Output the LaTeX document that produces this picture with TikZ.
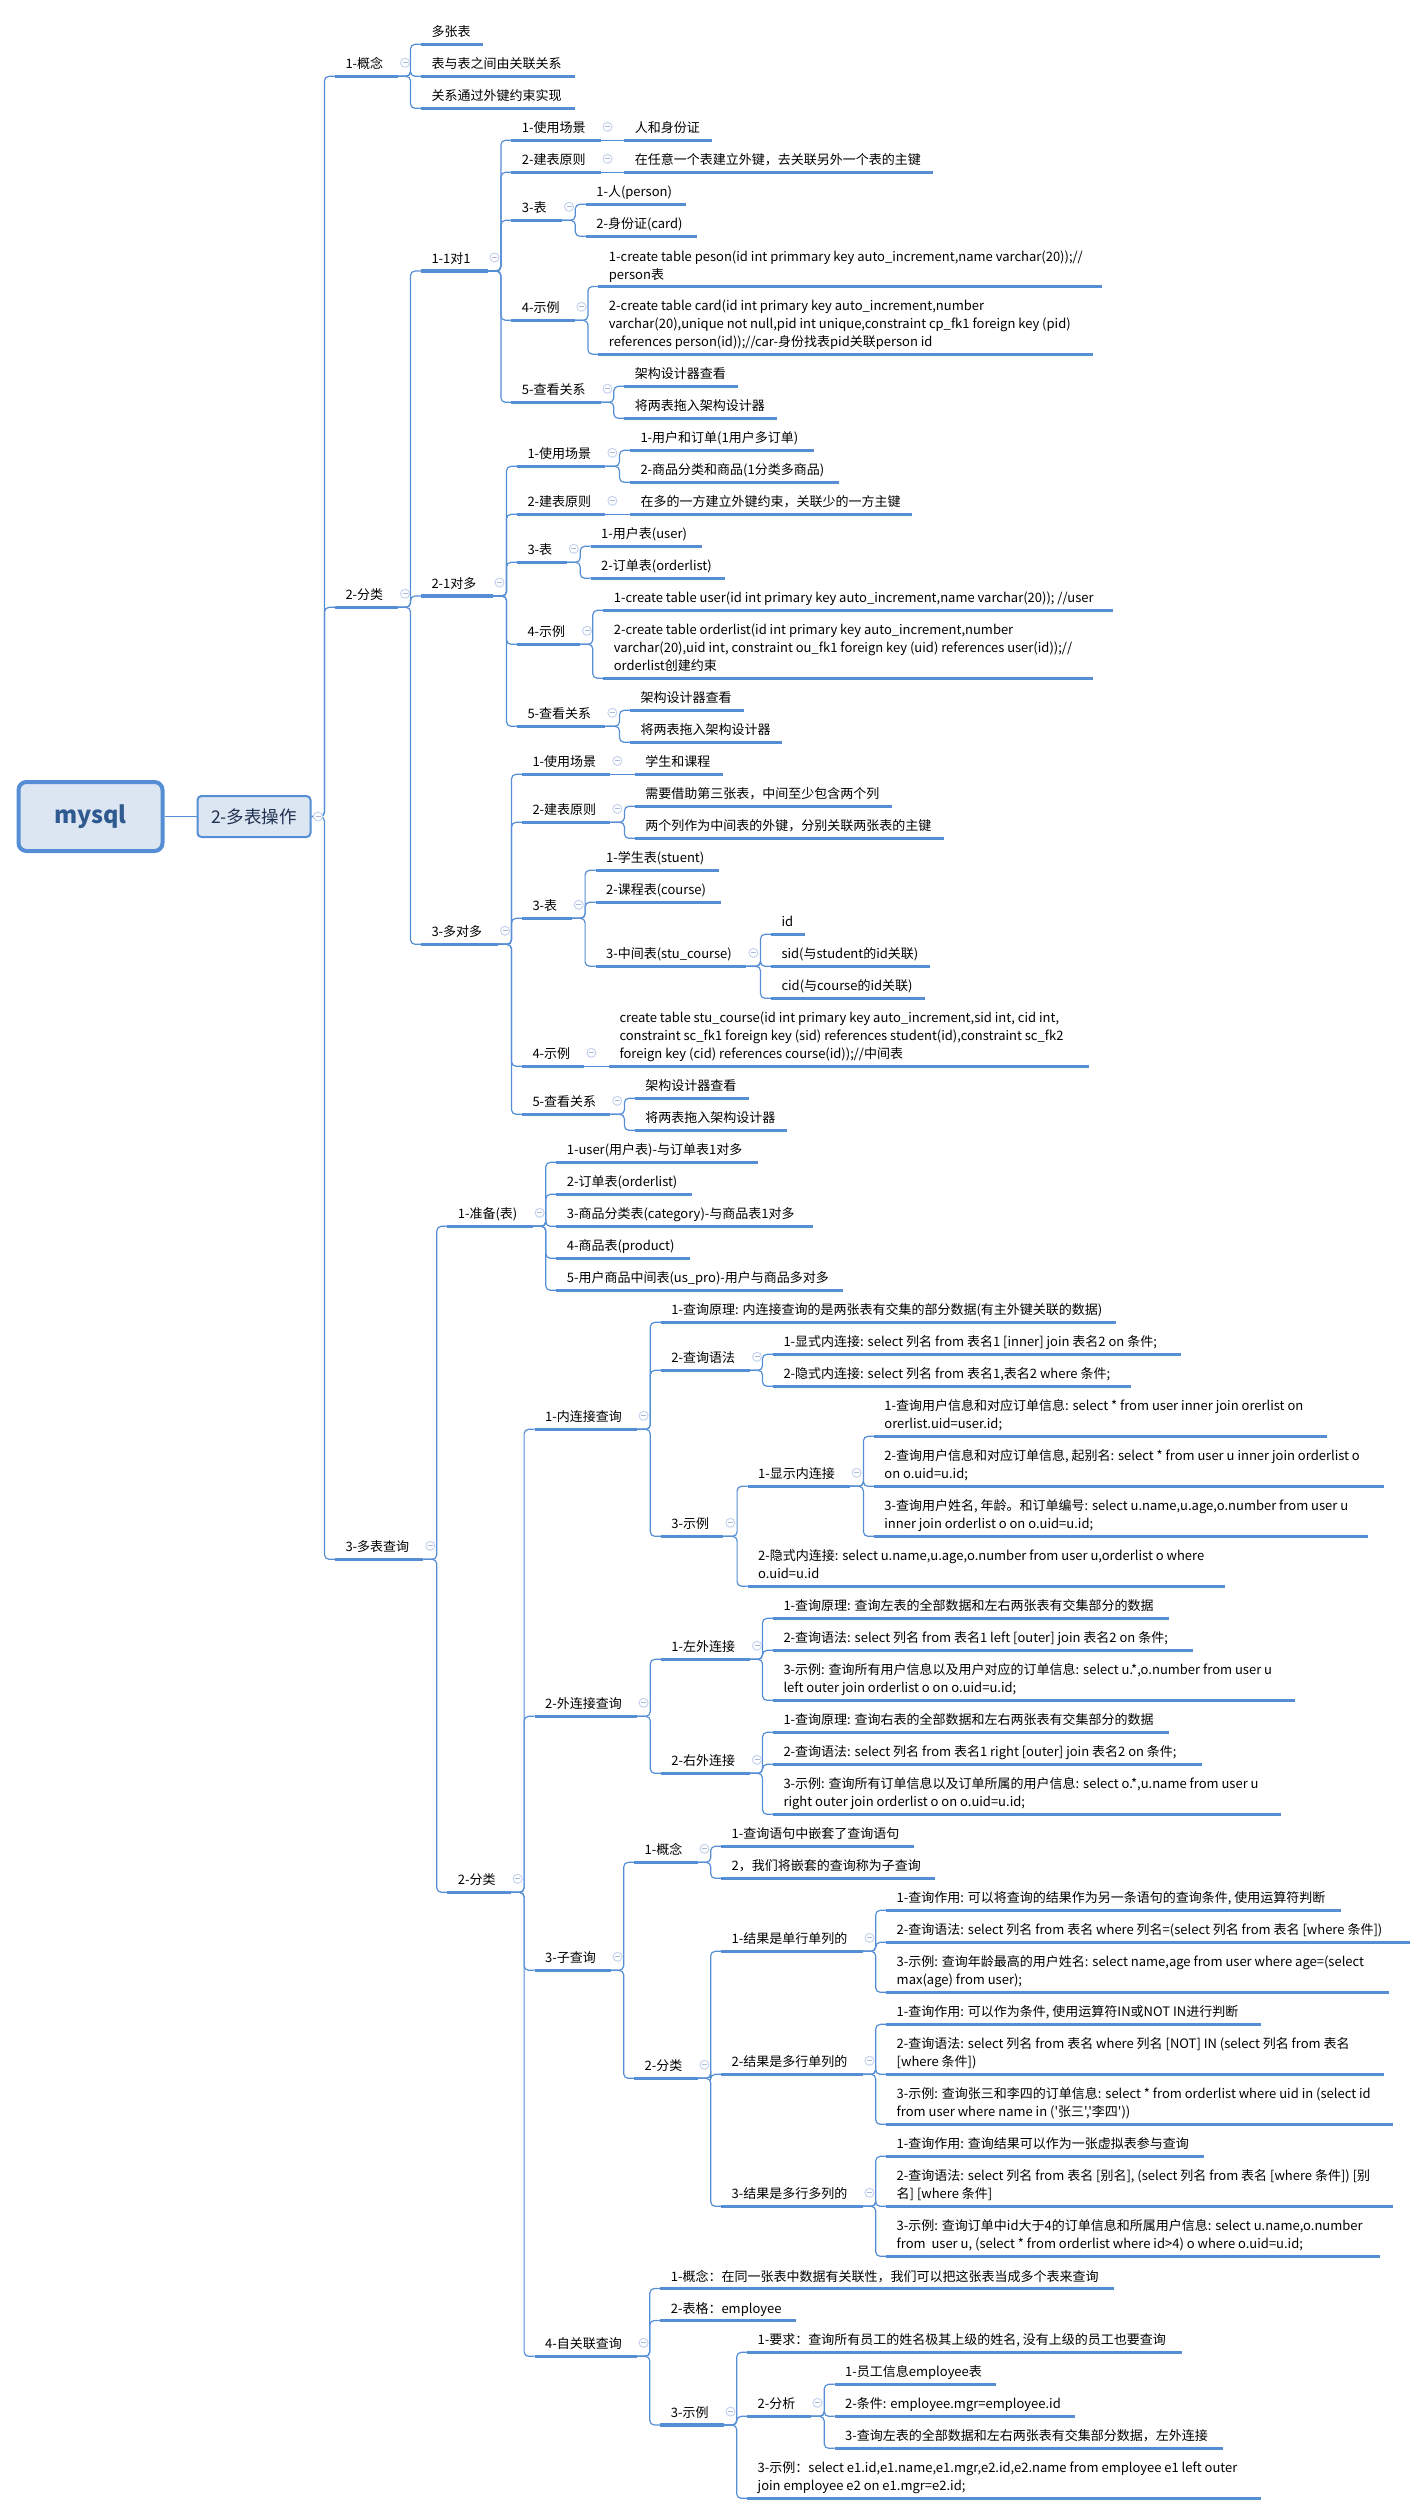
\documentclass[tikz,border=0pt]{standalone}
\usepackage{fontspec}
\newfontfamily\cjkfont{Noto Sans CJK SC}
\definecolor{mline}{HTML}{558ED5}
\definecolor{mfill}{HTML}{DCE6F2}
\definecolor{micon}{HTML}{C6D3EF}
\definecolor{mminus}{HTML}{A9B8D8}
\definecolor{mroot}{HTML}{2F5A90}
\definecolor{msub}{HTML}{1F3050}
\definecolor{mtext}{HTML}{000000}
\tikzset{
  topic/.style={anchor=south west,inner xsep=0pt,inner ysep=2pt,outer sep=0pt,text=mtext,
    font=\cjkfont\fontsize{13}{18}\selectfont},
  uline/.style={draw=mline,line width=3.2pt},
  conn/.style={draw=mline,line width=1.2pt,rounded corners=4.5pt},
  iconc/.style={circle,draw=micon,fill=white,line width=1pt,minimum size=9pt,inner sep=0pt},
  iconm/.style={draw=mminus,line width=0.9pt},
  rootbox/.style={draw=mline,fill=mfill,line width=4pt,rounded corners=8pt,minimum width=144pt,minimum height=69pt,
    inner sep=0pt,text=mroot,font=\cjkfont\bfseries\fontsize{23.5}{28}\selectfont},
  subbox/.style={draw=mline,fill=mfill,line width=2pt,rounded corners=4pt,minimum width=113pt,minimum height=41pt,
    inner sep=0pt,text=msub,font=\cjkfont\fontsize{17.5}{22}\selectfont}
}
\newcommand\topicx[5]{%
  \pgfmathsetlengthmacro\tw{(#3)-(#2)}%
  \node[topic] (#1) at (#2,#4) {\hbox to \tw{\hskip 10.5pt\begin{tabular}[b]{@{}l@{}}#5\end{tabular}\hss}};
  \draw[uline] (#1.south west) -- (#1.south east);
}
\newcommand\linkx[2]{\draw[conn] (#1.south east) -| ([xshift=-10.5pt]#2.south west) -- (#2.south west);}
\newcommand\linkst[2]{\draw[conn] (#1.south east) -- (#2.south west);}
\newcommand\iconx[1]{%
  \node[iconc] (#1i) at ([xshift=7pt,yshift=13.5pt]#1.south east) {};
  \draw[iconm] ([xshift=-2.5pt]#1i.center) -- ([xshift=2.5pt]#1i.center);
}
\begin{document}
\begin{tikzpicture}[x=1pt,y=-1pt]
\useasboundingbox (0,0) rectangle (1427,2515);
\node[rootbox] (root) at (90.5,816.5) {mysql};
\node[subbox] (sub) at (254,816.5) {2-多表操作};
\draw[conn] (root.east) -- (sub.west);
% level A
\topicx{aa}{335}{398}{76.3}{1-概念}
\topicx{ab}{335}{398}{607.3}{2-分类}
\topicx{ac}{335}{423.3}{1559.3}{3-多表查询}
% 1-概念
\topicx{aaa}{421}{483.3}{44.3}{多张表}
\topicx{aab}{421}{575}{76.3}{表与表之间由关联关系}
\topicx{aac}{421}{575}{108.3}{关系通过外键约束实现}
% 2-分类
\topicx{ba}{421}{487.5}{271}{1-1对1}
\topicx{bb}{421}{492.5}{596}{2-1对多}
\topicx{bc}{421}{498}{944.3}{3-多对多}
% 1-1对1
\topicx{baa}{511.4}{600.5}{140.3}{1-使用场景}
\topicx{baax}{624.3}{712}{140.3}{人和身份证}
\topicx{bab}{511.4}{600.5}{172.3}{2-建表原则}
\topicx{babx}{624.3}{933}{172.3}{在任意一个表建立外键，去关联另外一个表的主键}
\topicx{bac}{511.4}{562}{220.3}{3-表}
\topicx{baca}{585.8}{686}{204.3}{1-人(person)}
\topicx{bacb}{585.8}{697.3}{236.3}{2-身份证(card)}
\topicx{bad}{511.4}{574.5}{320.3}{4-示例}
\topicx{bada}{598.4}{1101.7}{286.5}{1-create table peson(id int primmary key auto\_increment,name varchar(20));//\\person表}
\topicx{badb}{598.4}{1093}{354.3}{2-create table card(id int primary key auto\_increment,number\\varchar(20),unique not null,pid int unique,constraint cp\_fk1 foreign key (pid)\\references person(id));//car-身份找表pid关联person id}
\topicx{bae}{511.4}{600.5}{402.3}{5-查看关系}
\topicx{baea}{624.3}{738}{386.3}{架构设计器查看}
\topicx{baeb}{624.3}{777.3}{418.3}{将两表拖入架构设计器}
% 2-1对多
\topicx{bba}{517}{605.4}{466.3}{1-使用场景}
\topicx{bbaa}{630}{813.8}{450.3}{1-用户和订单(1用户多订单)}
\topicx{bbab}{630}{839}{482.3}{2-商品分类和商品(1分类多商品)}
\topicx{bbb}{517}{605.4}{514.3}{2-建表原则}
\topicx{bbbx}{630}{912}{514.3}{在多的一方建立外键约束，关联少的一方主键}
\topicx{bbc}{517}{566.8}{562.3}{3-表}
\topicx{bbca}{590.7}{701.5}{546.3}{1-用户表(user)}
\topicx{bbcb}{590.7}{725.4}{578.3}{2-订单表(orderlist)}
\topicx{bbd}{517}{580}{644.3}{4-示例}
\topicx{bbda}{603.3}{1113.3}{610.3}{1-create table user(id int primary key auto\_increment,name varchar(20)); //user}
\topicx{bbdb}{603.3}{1093}{678.3}{2-create table orderlist(id int primary key auto\_increment,number\\varchar(20),uid int, constraint ou\_fk1 foreign key (uid) references user(id));//\\orderlist创建约束}
\topicx{bbe}{517}{605.4}{726.3}{5-查看关系}
\topicx{bbea}{630}{743.6}{710.3}{架构设计器查看}
\topicx{bbeb}{630}{782}{742.3}{将两表拖入架构设计器}
% 3-多对多
\topicx{bca}{522}{610.3}{774.3}{1-使用场景}
\topicx{bcax}{634.9}{722.5}{774.3}{学生和课程}
\topicx{bcb}{522}{610.3}{822.3}{2-建表原则}
\topicx{bcba}{634.9}{891.6}{806.3}{需要借助第三张表，中间至少包含两个列}
\topicx{bcbb}{634.9}{943.5}{838.3}{两个列作为中间表的外键，分别关联两张表的主键}
\topicx{bcc}{522}{571.7}{918.3}{3-表}
\topicx{bcca}{595.6}{719}{870.3}{1-学生表(stuent)}
\topicx{bccb}{595.6}{721}{902.3}{2-课程表(course)}
\topicx{bccc}{595.6}{746.4}{966.3}{3-中间表(stu\_course)}
\topicx{bccca}{771}{805.3}{934.3}{id}
\topicx{bcccb}{771}{929.5}{966.3}{sid(与student的id关联)}
\topicx{bcccc}{771}{924.6}{998.3}{cid(与course的id关联)}
\topicx{bcd}{522}{584.4}{1066.3}{4-示例}
\topicx{bcdx}{609}{1088.7}{1066.3}{create table stu\_course(id int primary key auto\_increment,sid int, cid int,\\constraint sc\_fk1 foreign key (sid) references student(id),constraint sc\_fk2\\foreign key (cid) references course(id));//中间表}
\topicx{bce}{522}{610.3}{1114.3}{5-查看关系}
\topicx{bcea}{634.9}{748.5}{1098.3}{架构设计器查看}
\topicx{bceb}{634.9}{787}{1130.3}{将两表拖入架构设计器}
% 3-多表查询
\topicx{ca}{447.3}{532.7}{1226.3}{1-准备(表)}
\topicx{caa}{556.3}{758.4}{1162.3}{1-user(用户表)-与订单表1对多}
\topicx{cab}{556.3}{691.5}{1194.3}{2-订单表(orderlist)}
\topicx{cac}{556.3}{812.6}{1226.3}{3-商品分类表(category)-与商品表1对多}
\topicx{cad}{556.3}{690}{1258.3}{4-商品表(product)}
\topicx{cae}{556.3}{843}{1290.3}{5-用户商品中间表(us\_pro)-用户与商品多对多}
\topicx{cb}{447.3}{510.7}{1892.3}{2-分类}
% 1-内连接查询
\topicx{da}{534.6}{636.6}{1429.3}{1-内连接查询}
\topicx{daa}{660.8}{1116.2}{1322.3}{1-查询原理: 内连接查询的是两张表有交集的部分数据(有主外键关联的数据)}
\topicx{dab}{660.8}{750}{1370.3}{2-查询语法}
\topicx{daba}{773}{1180.6}{1354.3}{1-显式内连接: select 列名 from 表名1 [inner] join 表名2 on 条件;}
\topicx{dabb}{773}{1131}{1386.3}{2-隐式内连接: select 列名 from 表名1,表名2 where 条件;}
\topicx{dac}{660.8}{723.3}{1536.3}{3-示例}
\topicx{daca}{747.6}{849.6}{1486.3}{1-显示内连接}
\topicx{dacaa}{873.9}{1326.7}{1436.3}{1-查询用户信息和对应订单信息: select * from user inner join orerlist on\\orerlist.uid=user.id;}
\topicx{dacab}{873.9}{1384}{1486.3}{2-查询用户信息和对应订单信息, 起别名: select * from user u inner join orderlist o\\on o.uid=u.id;}
\topicx{dacac}{873.9}{1368}{1536.3}{3-查询用户姓名, 年龄。和订单编号: select u.name,u.age,o.number from user u\\inner join orderlist o on o.uid=u.id;}
\topicx{dacb}{747.6}{1224.6}{1586.3}{2-隐式内连接: select u.name,u.age,o.number from user u,orderlist o where\\o.uid=u.id}
% 2-外连接查询
\topicx{db}{534.6}{636.6}{1716.3}{2-外连接查询}
\topicx{dba}{660.8}{750}{1659.3}{1-左外连接}
\topicx{dbaa}{773}{1168.5}{1618.3}{1-查询原理: 查询左表的全部数据和左右两张表有交集部分的数据}
\topicx{dbab}{773}{1193.4}{1650.3}{2-查询语法: select 列名 from 表名1 left [outer] join 表名2 on 条件;}
\topicx{dbac}{773}{1295.4}{1700.3}{3-示例: 查询所有用户信息以及用户对应的订单信息: select u.*,o.number from user u\\left outer join orderlist o on o.uid=u.id;}
\topicx{dbb}{660.8}{750}{1773.3}{2-右外连接}
\topicx{dbba}{773}{1168.5}{1732.3}{1-查询原理: 查询右表的全部数据和左右两张表有交集部分的数据}
\topicx{dbbb}{773}{1202.3}{1764.3}{2-查询语法: select 列名 from 表名1 right [outer] join 表名2 on 条件;}
\topicx{dbbc}{773}{1281.4}{1814.3}{3-示例: 查询所有订单信息以及订单所属的用户信息: select o.*,u.name from user u\\right outer join orderlist o on o.uid=u.id;}
% 3-子查询
\topicx{dc}{534.6}{610.6}{1970.3}{3-子查询}
\topicx{dca}{634.2}{697.5}{1862.3}{1-概念}
\topicx{dcaa}{721.2}{914}{1846.3}{1-查询语句中嵌套了查询语句}
\topicx{dcab}{721.2}{934.6}{1878.3}{2，我们将嵌套的查询称为子查询}
\topicx{dcb}{634.2}{697.5}{2078.3}{2-分类}
\topicx{dcba}{721.2}{862.5}{1951.3}{1-结果是单行单列的}
\topicx{dcbaa}{886.2}{1341}{1910.3}{1-查询作用: 可以将查询的结果作为另一条语句的查询条件, 使用运算符判断}
\topicx{dcbab}{886.2}{1409.5}{1942.3}{2-查询语法: select 列名 from 表名 where 列名=(select 列名 from 表名 [where 条件])}
\topicx{dcbac}{886.2}{1388.8}{1992.3}{3-示例: 查询年龄最高的用户姓名: select name,age from user where age=(select\\max(age) from user);}
\topicx{dcbb}{721.2}{862.5}{2074.3}{2-结果是多行单列的}
\topicx{dcbba}{886.2}{1260.5}{2024.3}{1-查询作用: 可以作为条件, 使用运算符IN或NOT IN进行判断}
\topicx{dcbbb}{886.2}{1383.5}{2074.3}{2-查询语法: select 列名 from 表名 where 列名 [NOT] IN (select 列名 from 表名\\{[}where 条件{]})}
\topicx{dcbbc}{886.2}{1393}{2124.3}{3-示例: 查询张三和李四的订单信息: select * from orderlist where uid in (select id\\from user where name in ('张三','李四'))}
\topicx{dcbc}{721.2}{862.5}{2206.3}{3-结果是多行多列的}
\topicx{dcbca}{886.2}{1203.7}{2156.3}{1-查询作用: 查询结果可以作为一张虚拟表参与查询}
\topicx{dcbcb}{886.2}{1393}{2206.3}{2-查询语法: select 列名 from 表名 [别名], (select 列名 from 表名 [where 条件]) [别\\名] [where 条件]}
\topicx{dcbcc}{886.2}{1380}{2256.3}{3-示例: 查询订单中id大于4的订单信息和所属用户信息: select u.name,o.number\\from\ \ user u, (select * from orderlist where id>4) o where o.uid=u.id;}
% 4-自关联查询
\topicx{dd}{534.6}{636.6}{2356.3}{4-自关联查询}
\topicx{dda}{660.3}{1113.8}{2288.5}{1-概念：在同一张表中数据有关联性，我们可以把这张表当成多个表来查询}
\topicx{ddb}{660.3}{796.3}{2320.5}{2-表格：employee}
\topicx{ddc}{660.3}{723.5}{2425}{3-示例}
\topicx{ddca}{747.2}{1181.8}{2352.3}{1-要求：查询所有员工的姓名极其上级的姓名, 没有上级的员工也要查询}
\topicx{ddcb}{747.2}{810.5}{2416.3}{2-分析}
\topicx{ddcba}{834.7}{995.6}{2384.3}{1-员工信息employee表}
\topicx{ddcbb}{834.7}{1075.4}{2416.3}{2-条件: employee.mgr=employee.id}
\topicx{ddcbc}{834.7}{1222.7}{2448.3}{3-查询左表的全部数据和左右两张表有交集部分数据，左外连接}
\topicx{ddcc}{747.2}{1260.5}{2498.3}{3-示例：select e1.id,e1.name,e1.mgr,e2.id,e2.name from employee e1 left outer\\join employee e2 on e1.mgr=e2.id;}
% connectors
\foreach \c in {aa,ab,ac}{\draw[conn] (sub.east) -| ([xshift=-10.5pt]\c.south west) -- (\c.south west);}
\foreach \c in {aaa,aab,aac}{\linkx{aa}{\c}}
\foreach \c in {ba,bb,bc}{\linkx{ab}{\c}}
\foreach \c in {ca,cb}{\linkx{ac}{\c}}
\foreach \c in {baa,bab,bac,bad,bae}{\linkx{ba}{\c}}
\linkst{baa}{baax}
\linkst{bab}{babx}
\foreach \c in {baca,bacb}{\linkx{bac}{\c}}
\foreach \c in {bada,badb}{\linkx{bad}{\c}}
\foreach \c in {baea,baeb}{\linkx{bae}{\c}}
\foreach \c in {bba,bbb,bbc,bbd,bbe}{\linkx{bb}{\c}}
\foreach \c in {bbaa,bbab}{\linkx{bba}{\c}}
\linkst{bbb}{bbbx}
\foreach \c in {bbca,bbcb}{\linkx{bbc}{\c}}
\foreach \c in {bbda,bbdb}{\linkx{bbd}{\c}}
\foreach \c in {bbea,bbeb}{\linkx{bbe}{\c}}
\foreach \c in {bca,bcb,bcc,bcd,bce}{\linkx{bc}{\c}}
\linkst{bca}{bcax}
\foreach \c in {bcba,bcbb}{\linkx{bcb}{\c}}
\foreach \c in {bcca,bccb,bccc}{\linkx{bcc}{\c}}
\foreach \c in {bccca,bcccb,bcccc}{\linkx{bccc}{\c}}
\linkst{bcd}{bcdx}
\foreach \c in {bcea,bceb}{\linkx{bce}{\c}}
\foreach \c in {caa,cab,cac,cad,cae}{\linkx{ca}{\c}}
\foreach \c in {da,db,dc,dd}{\linkx{cb}{\c}}
\foreach \c in {daa,dab,dac}{\linkx{da}{\c}}
\foreach \c in {daba,dabb}{\linkx{dab}{\c}}
\foreach \c in {daca,dacb}{\linkx{dac}{\c}}
\foreach \c in {dacaa,dacab,dacac}{\linkx{daca}{\c}}
\foreach \c in {dba,dbb}{\linkx{db}{\c}}
\foreach \c in {dbaa,dbab,dbac}{\linkx{dba}{\c}}
\foreach \c in {dbba,dbbb,dbbc}{\linkx{dbb}{\c}}
\foreach \c in {dca,dcb}{\linkx{dc}{\c}}
\foreach \c in {dcaa,dcab}{\linkx{dca}{\c}}
\foreach \c in {dcba,dcbb,dcbc}{\linkx{dcb}{\c}}
\foreach \c in {dcbaa,dcbab,dcbac}{\linkx{dcba}{\c}}
\foreach \c in {dcbba,dcbbb,dcbbc}{\linkx{dcbb}{\c}}
\foreach \c in {dcbca,dcbcb,dcbcc}{\linkx{dcbc}{\c}}
\foreach \c in {dda,ddb,ddc}{\linkx{dd}{\c}}
\foreach \c in {ddca,ddcb,ddcc}{\linkx{ddc}{\c}}
\foreach \c in {ddcba,ddcbb,ddcbc}{\linkx{ddcb}{\c}}
% collapse icons
\foreach \p in {aa,ab,ac,ba,bb,bc,baa,bab,bac,bad,bae,bba,bbb,bbc,bbd,bbe,bca,bcb,bcc,bccc,bcd,bce,ca,cb,da,dab,dac,daca,db,dba,dbb,dc,dca,dcb,dcba,dcbb,dcbc,dd,ddc,ddcb}{\iconx{\p}}
\node[iconc] (subi) at ([xshift=6.5pt]sub.east) {};
\draw[iconm] ([xshift=-2.5pt]subi.center) -- ([xshift=2.5pt]subi.center);
\end{tikzpicture}
\end{document}
